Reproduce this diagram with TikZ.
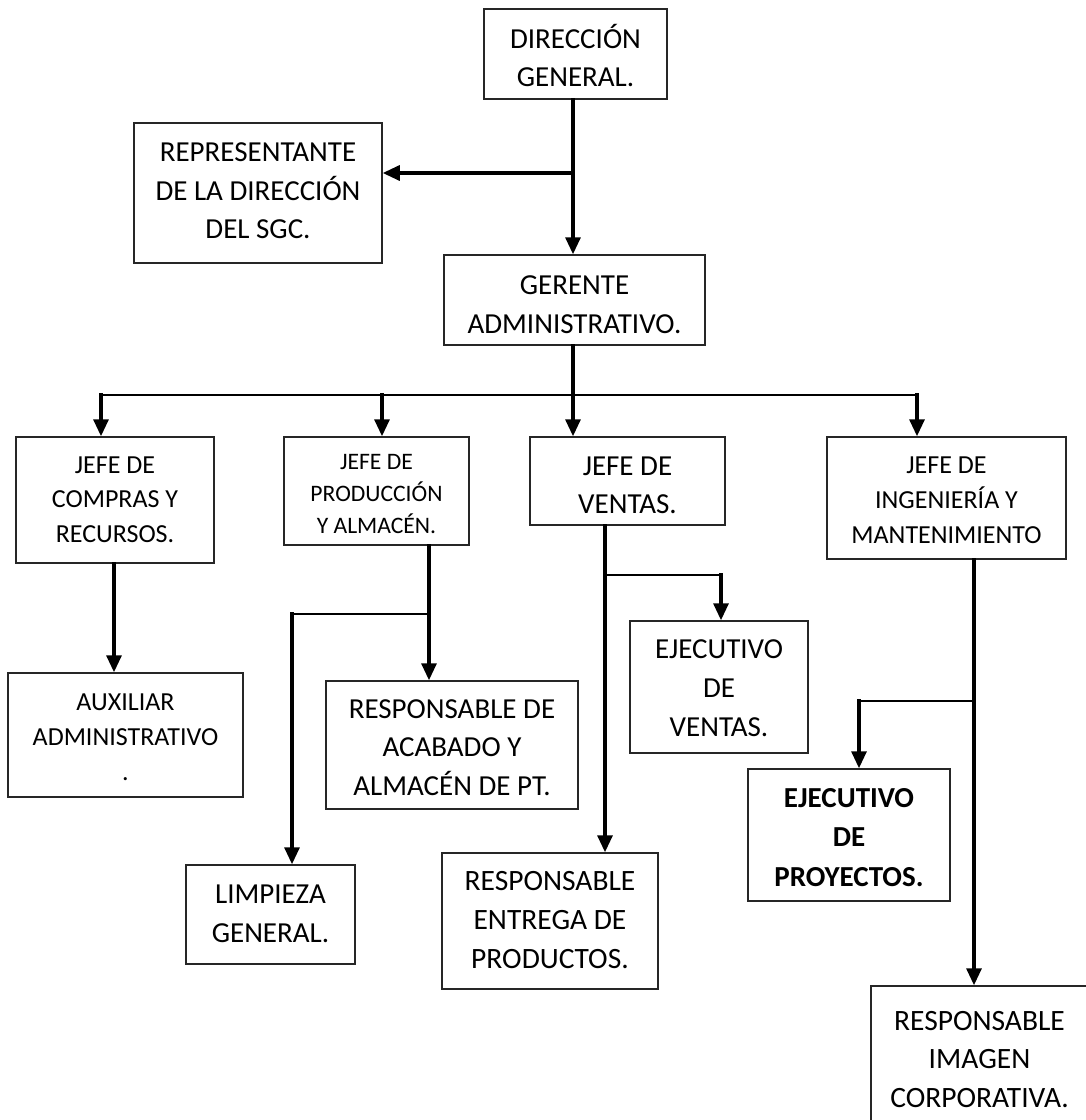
\documentclass[tikz,border=0pt]{standalone}
\usepackage{fontspec}
\setmainfont{Carlito}
\usetikzlibrary{arrows.meta}
% centred multi-line label whose baseline is the first line
\newcommand{\orgtext}[3]{\parbox[t]{260pt}{\centering\fontsize{#1}{#2}\selectfont #3}}
\begin{document}
\begin{tikzpicture}[x=1pt,y=-1pt,
  orgbox/.style={draw=black!85, line width=1.5pt, inner sep=0pt, rectangle},
  lbl/.style={inner sep=0pt, anchor=base},
  link/.style={line width=3.2pt, line cap=rect, -{Triangle[width=15pt,length=17pt]}},
  branch/.style={line width=2pt}]

\useasboundingbox (0,0) rectangle (1086,1120);
\fill[white] (0,0) rectangle (1086,1120);
\clip (0,0) rectangle (1086,1120);

% ---- boxes ----
\node[orgbox, minimum width=183pt, minimum height=90pt]  (dg)   at (575.5,54)  {};
\node[orgbox, minimum width=248pt, minimum height=140pt] (rep)  at (258,193)   {};
\node[orgbox, minimum width=261pt, minimum height=90pt]  (ger)  at (574.5,300) {};
\node[orgbox, minimum width=198pt, minimum height=126pt] (comp) at (115,500)   {};
\node[orgbox, minimum width=185pt, minimum height=108pt] (prod) at (376.5,491) {};
\node[orgbox, minimum width=195pt, minimum height=88pt]  (vent) at (627.5,481) {};
\node[orgbox, minimum width=239pt, minimum height=122pt] (ing)  at (946.5,498) {};
\node[orgbox, minimum width=235pt, minimum height=124pt] (aux)  at (125.5,735) {};
\node[orgbox, minimum width=252pt, minimum height=128pt] (acab) at (452,745)   {};
\node[orgbox, minimum width=169pt, minimum height=99pt]  (limp) at (270.5,914.5) {};
\node[orgbox, minimum width=216pt, minimum height=136pt] (ent)  at (550,921)   {};
\node[orgbox, minimum width=178pt, minimum height=132pt] (ejv)  at (719,687)   {};
\node[orgbox, minimum width=202pt, minimum height=132pt] (proy) at (849,835)   {};
\node[orgbox, minimum width=217pt, minimum height=144pt] (img)  at (979.5,1058) {};

% ---- labels ----
\node[lbl] (dg-t)   at (575.5,48)  {\orgtext{29}{38.5}{DIRECCIÓN\\GENERAL.}};
\node[lbl] (rep-t)  at (258,161.5) {\orgtext{29}{38.5}{REPRESENTANTE\\DE LA DIRECCIÓN\\DEL SGC.}};
\node[lbl] (ger-t)  at (574.5,294) {\orgtext{29}{39}{GERENTE\\ADMINISTRATIVO.}};
\node[lbl] (comp-t) at (115,473)   {\orgtext{26}{34.5}{JEFE DE\\COMPRAS Y\\RECURSOS.}};
\node[lbl] (prod-t) at (376.5,469) {\orgtext{23.6}{32}{JEFE DE\\PRODUCCIÓN\\Y ALMACÉN.}};
\node[lbl] (vent-t) at (627.5,475) {\orgtext{29}{38}{JEFE DE\\VENTAS.}};
\node[lbl] (ing-t)  at (946.5,473) {\orgtext{26}{35}{JEFE DE\\INGENIERÍA Y\\MANTENIMIENTO}};
\node[lbl] (aux-t)  at (125.5,710) {\orgtext{26}{35}{AUXILIAR\\ADMINISTRATIVO\hspace*{9pt}\\.}};
\node[lbl] (acab-t) at (452,718)   {\orgtext{29}{38.5}{RESPONSABLE DE\\ACABADO Y\\ALMACÉN DE PT.}};
\node[lbl] (limp-t) at (270.5,903) {\orgtext{29}{39}{LIMPIEZA\\GENERAL.}};
\node[lbl] (ent-t)  at (550,890)   {\orgtext{29.5}{39}{RESPONSABLE\hspace*{9pt}\\ENTREGA DE\\PRODUCTOS.}};
\node[lbl] (ejv-t)  at (719,658)   {\orgtext{29}{39}{EJECUTIVO\\DE\\VENTAS.}};
\node[lbl] (proy-t) at (849,807)   {\orgtext{29}{39.5}{\bfseries EJECUTIVO\\DE\\PROYECTOS.}};
\node[lbl] (img-t)  at (979.5,1030) {\orgtext{29.5}{38.5}{RESPONSABLE\\IMAGEN\\CORPORATIVA.}};

% ---- junction points ----
\coordinate (repJoin)   at (573,173);
\coordinate (dropComp)  at (101,395);
\coordinate (dropProd)  at (382,395);
\coordinate (dropVent)  at (573,395);
\coordinate (dropIng)   at (917,395);
\coordinate (auxCol)    at (114,600);
\coordinate (prodJoin)  at (429,614);
\coordinate (limpCol)   at (292,614);
\coordinate (ventJoin)  at (605,575);
\coordinate (ejvCol)    at (721,575);
\coordinate (ingJoin)   at (974,701);
\coordinate (proyCol)   at (859,701);

% ---- connectors ----
\draw[link] (dg.south -| repJoin) -- (ger.north -| repJoin);
\draw[link] (repJoin) -- (repJoin -| rep.east);
\draw[link] (ger.south -| dropVent) -- (vent.north -| dropVent);

\draw[branch] (dropComp) -- (dropIng);
\draw[link] (dropComp) -- (dropComp |- comp.north);
\draw[link] (dropProd) -- (dropProd |- prod.north);
\draw[link] (dropIng) -- (dropIng |- ing.north);

\draw[link] (comp.south -| auxCol) -- (aux.north -| auxCol);

\draw[link] (prod.south -| prodJoin) -- (acab.north -| prodJoin);
\draw[branch] (prodJoin) -- (limpCol);
\draw[link] (limpCol) -- (limpCol |- limp.north);

\draw[link] (vent.south -| ventJoin) -- (ent.north -| ventJoin);
\draw[branch] (ventJoin) -- (ejvCol);
\draw[link] (ejvCol) -- (ejvCol |- ejv.north);

\draw[link] (ing.south -| ingJoin) -- (img.north -| ingJoin);
\draw[branch] (ingJoin) -- (proyCol);
\draw[link] (proyCol) -- (proyCol |- proy.north);
\end{tikzpicture}
\end{document}
